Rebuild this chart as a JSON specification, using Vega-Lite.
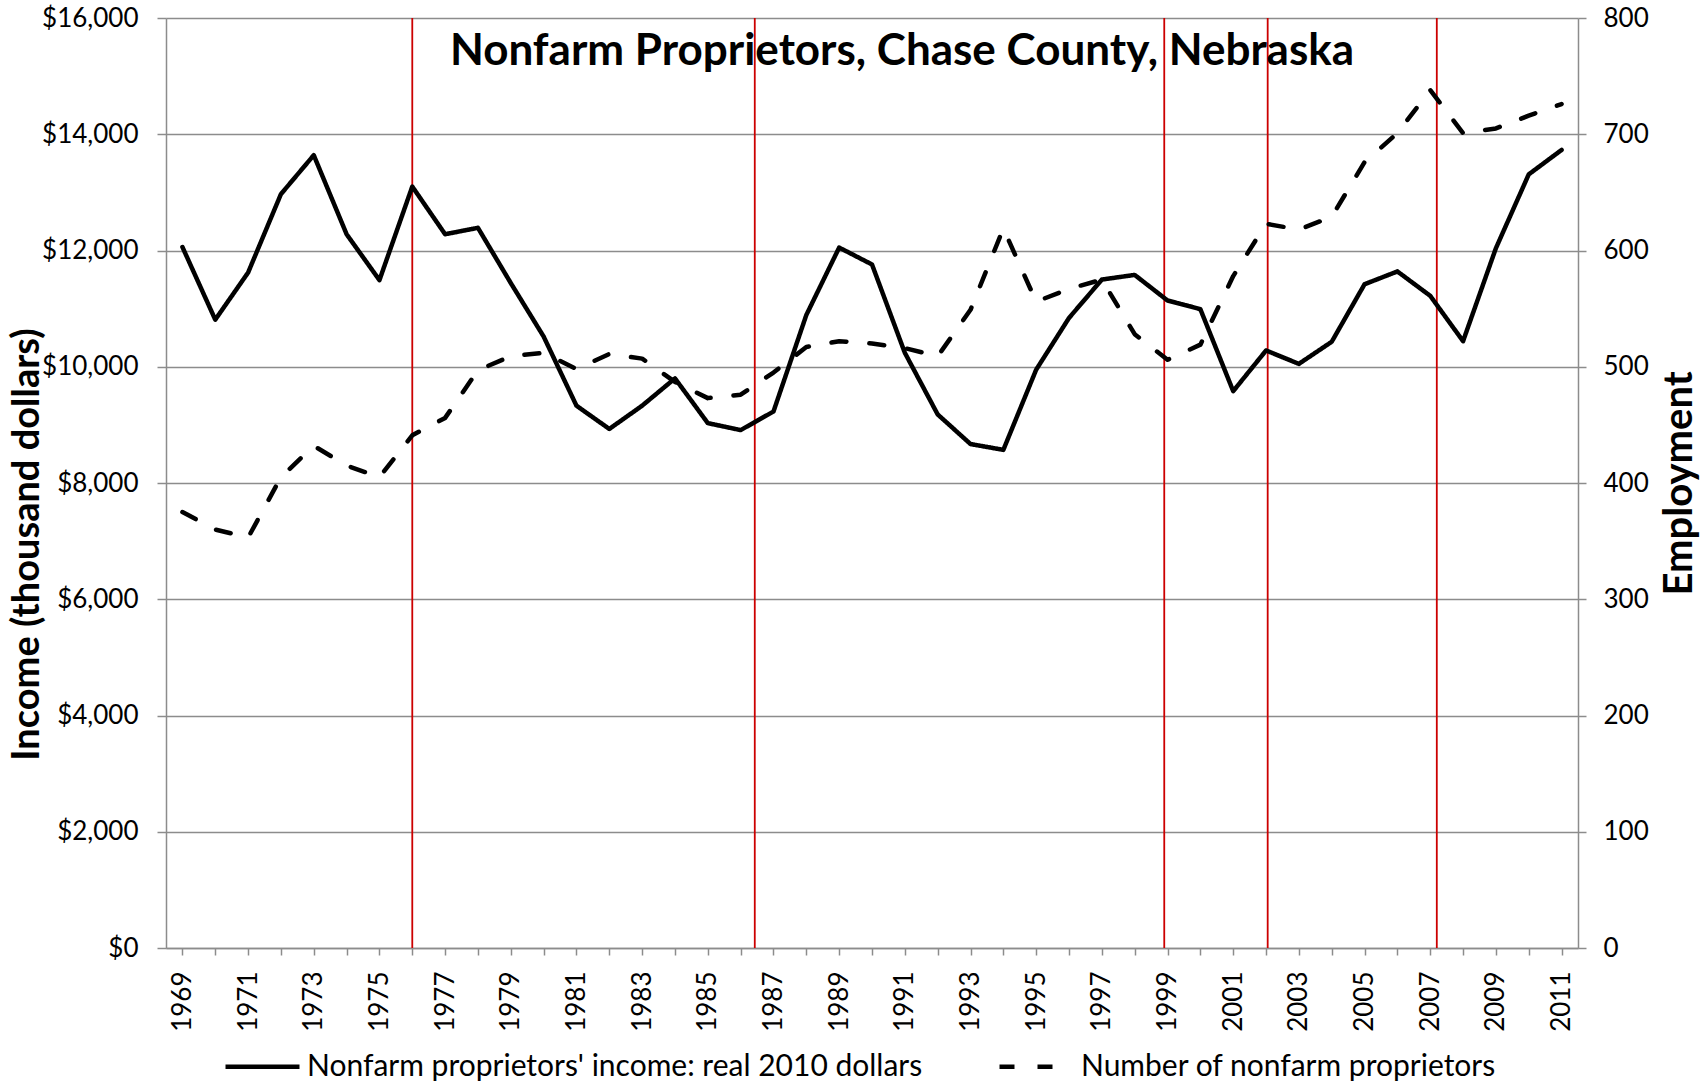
{
  "$schema": "https://vega.github.io/schema/vega-lite/v6.json",
  "width": 1412,
  "height": 930,
  "autosize": "none",
  "padding": {"left": 166, "top": 18, "right": 126, "bottom": 136},
  "background": "white",
  "config": {"font": "Lato", "view": {"stroke": null}},
  "title": {
    "text": "Nonfarm Proprietors, Chase County, Nebraska",
    "fontSize": 44, "fontWeight": "bold", "color": "black", "font": "Lato",
    "anchor": "middle", "frame": "group", "dx": 30, "baseline": "alphabetic", "offset": 0, "dy": 104
  },
  "datasets": {
    "series": [
      {"year": 1969, "income": 12060, "employment": 375},
      {"year": 1970, "income": 10810, "employment": 360},
      {"year": 1971, "income": 11620, "employment": 353},
      {"year": 1972, "income": 12970, "employment": 405},
      {"year": 1973, "income": 13640, "employment": 432},
      {"year": 1974, "income": 12280, "employment": 415},
      {"year": 1975, "income": 11490, "employment": 405},
      {"year": 1976, "income": 13100, "employment": 441},
      {"year": 1977, "income": 12280, "employment": 456},
      {"year": 1978, "income": 12390, "employment": 497},
      {"year": 1979, "income": 11440, "employment": 509},
      {"year": 1980, "income": 10520, "employment": 512},
      {"year": 1981, "income": 9330, "employment": 498},
      {"year": 1982, "income": 8930, "employment": 511},
      {"year": 1983, "income": 9330, "employment": 507},
      {"year": 1984, "income": 9800, "employment": 487},
      {"year": 1985, "income": 9030, "employment": 473},
      {"year": 1986, "income": 8910, "employment": 476},
      {"year": 1987, "income": 9230, "employment": 495},
      {"year": 1988, "income": 10890, "employment": 517},
      {"year": 1989, "income": 12050, "employment": 522},
      {"year": 1990, "income": 11760, "employment": 520},
      {"year": 1991, "income": 10240, "employment": 516},
      {"year": 1992, "income": 9180, "employment": 509},
      {"year": 1993, "income": 8670, "employment": 549},
      {"year": 1994, "income": 8570, "employment": 619},
      {"year": 1995, "income": 9950, "employment": 556},
      {"year": 1996, "income": 10840, "employment": 567},
      {"year": 1997, "income": 11500, "employment": 575},
      {"year": 1998, "income": 11580, "employment": 528},
      {"year": 1999, "income": 11140, "employment": 506},
      {"year": 2000, "income": 10990, "employment": 519},
      {"year": 2001, "income": 9580, "employment": 578},
      {"year": 2002, "income": 10280, "employment": 623},
      {"year": 2003, "income": 10050, "employment": 618},
      {"year": 2004, "income": 10430, "employment": 629},
      {"year": 2005, "income": 11420, "employment": 676},
      {"year": 2006, "income": 11640, "employment": 701},
      {"year": 2007, "income": 11220, "employment": 738},
      {"year": 2008, "income": 10440, "employment": 701},
      {"year": 2009, "income": 12040, "employment": 705},
      {"year": 2010, "income": 13310, "employment": 716},
      {"year": 2011, "income": 13730, "employment": 726}
    ],
    "events": [
      {"year": 1976.0},
      {"year": 1986.43},
      {"year": 1998.9},
      {"year": 2002.05},
      {"year": 2007.2}
    ]
  },
  "data": {"name": "series"},
  "encoding": {
    "x": {
      "field": "year", "type": "quantitative",
      "scale": {"domain": [1968.5, 2011.5], "nice": false, "zero": false},
      "axis": {
        "title": null,
        "values": [1969,1970,1971,1972,1973,1974,1975,1976,1977,1978,1979,1980,1981,1982,1983,1984,1985,1986,1987,1988,1989,1990,1991,1992,1993,1994,1995,1996,1997,1998,1999,2000,2001,2002,2003,2004,2005,2006,2007,2008,2009,2010,2011],
        "format": "d",
        "labelExpr": "datum.value % 2 == 1 ? datum.label : ''",
        "labelAngle": 270,
        "labelOverlap": false,
        "labelFlush": false,
        "labelBound": false,
        "labelFontSize": 26,
        "labelColor": "black",
        "labelPadding": 16,
        "grid": false,
        "tickSize": 7,
        "tickColor": "#8c8c8c",
        "tickWidth": 1.5,
        "domainColor": "#8c8c8c",
        "domainWidth": 1.5
      }
    }
  },
  "layer": [
    {
      "data": {"name": "events"},
      "mark": {"type": "rule", "color": "#cc0000", "strokeWidth": 1.8},
      "encoding": {}
    },
    {
      "mark": {"type": "line", "color": "black", "strokeWidth": 4.5, "strokeCap": "round", "strokeJoin": "round"},
      "encoding": {
        "y": {
          "field": "income", "type": "quantitative",
          "scale": {"domain": [0, 16000], "nice": false},
          "axis": {
            "orient": "left",
            "values": [0, 2000, 4000, 6000, 8000, 10000, 12000, 14000, 16000],
            "format": "$,d",
            "grid": true, "gridColor": "#8c8c8c", "gridWidth": 1.5,
            "domainColor": "#8c8c8c", "domainWidth": 1.5,
            "tickColor": "#8c8c8c", "tickWidth": 1.5, "tickSize": 9,
            "labelPadding": 19, "labelFontSize": 26, "labelColor": "black",
            "title": "Income (thousand dollars)",
            "titleFontSize": 38, "titleFontWeight": "bold", "titleColor": "black",
            "titleX": -139, "titleY": 526, "titleBaseline": "middle", "titleAngle": 270
          }
        },
        "strokeDash": {
          "datum": "Nonfarm proprietors' income: real 2010 dollars", "type": "nominal",
          "scale": {"domain": ["Nonfarm proprietors' income: real 2010 dollars", "Number of nonfarm proprietors"], "range": [[1, 0], [15, 23]]},
          "legend": {
            "orient": "none", "legendX": 57, "legendY": 1009, "direction": "horizontal", "columns": 2,
            "title": null, "symbolType": "stroke", "symbolSize": 5476, "symbolStrokeWidth": 4.5,
            "symbolStrokeColor": "black", "labelFontSize": 30, "labelColor": "black", "labelOffset": 5,
            "columnPadding": 67, "padding": 0, "labelLimit": 1000
          }
        }
      }
    },
    {
      "mark": {"type": "line", "color": "black", "strokeWidth": 4.5, "strokeCap": "round", "strokeJoin": "round"},
      "encoding": {
        "y": {
          "field": "employment", "type": "quantitative",
          "scale": {"domain": [0, 800], "nice": false},
          "axis": {
            "orient": "right",
            "values": [0, 100, 200, 300, 400, 500, 600, 700, 800],
            "grid": false,
            "domainColor": "#8c8c8c", "domainWidth": 1.5,
            "tickColor": "#8c8c8c", "tickWidth": 1.5, "tickSize": 8,
            "labelPadding": 17, "labelFontSize": 26, "labelColor": "black",
            "title": "Employment",
            "titleFontSize": 40, "titleFontWeight": "bold", "titleColor": "black",
            "titleX": 101, "titleY": 465, "titleBaseline": "middle", "titleAngle": 270
          }
        },
        "strokeDash": {"datum": "Number of nonfarm proprietors", "type": "nominal"}
      }
    }
  ],
  "resolve": {"scale": {"y": "independent"}}
}
